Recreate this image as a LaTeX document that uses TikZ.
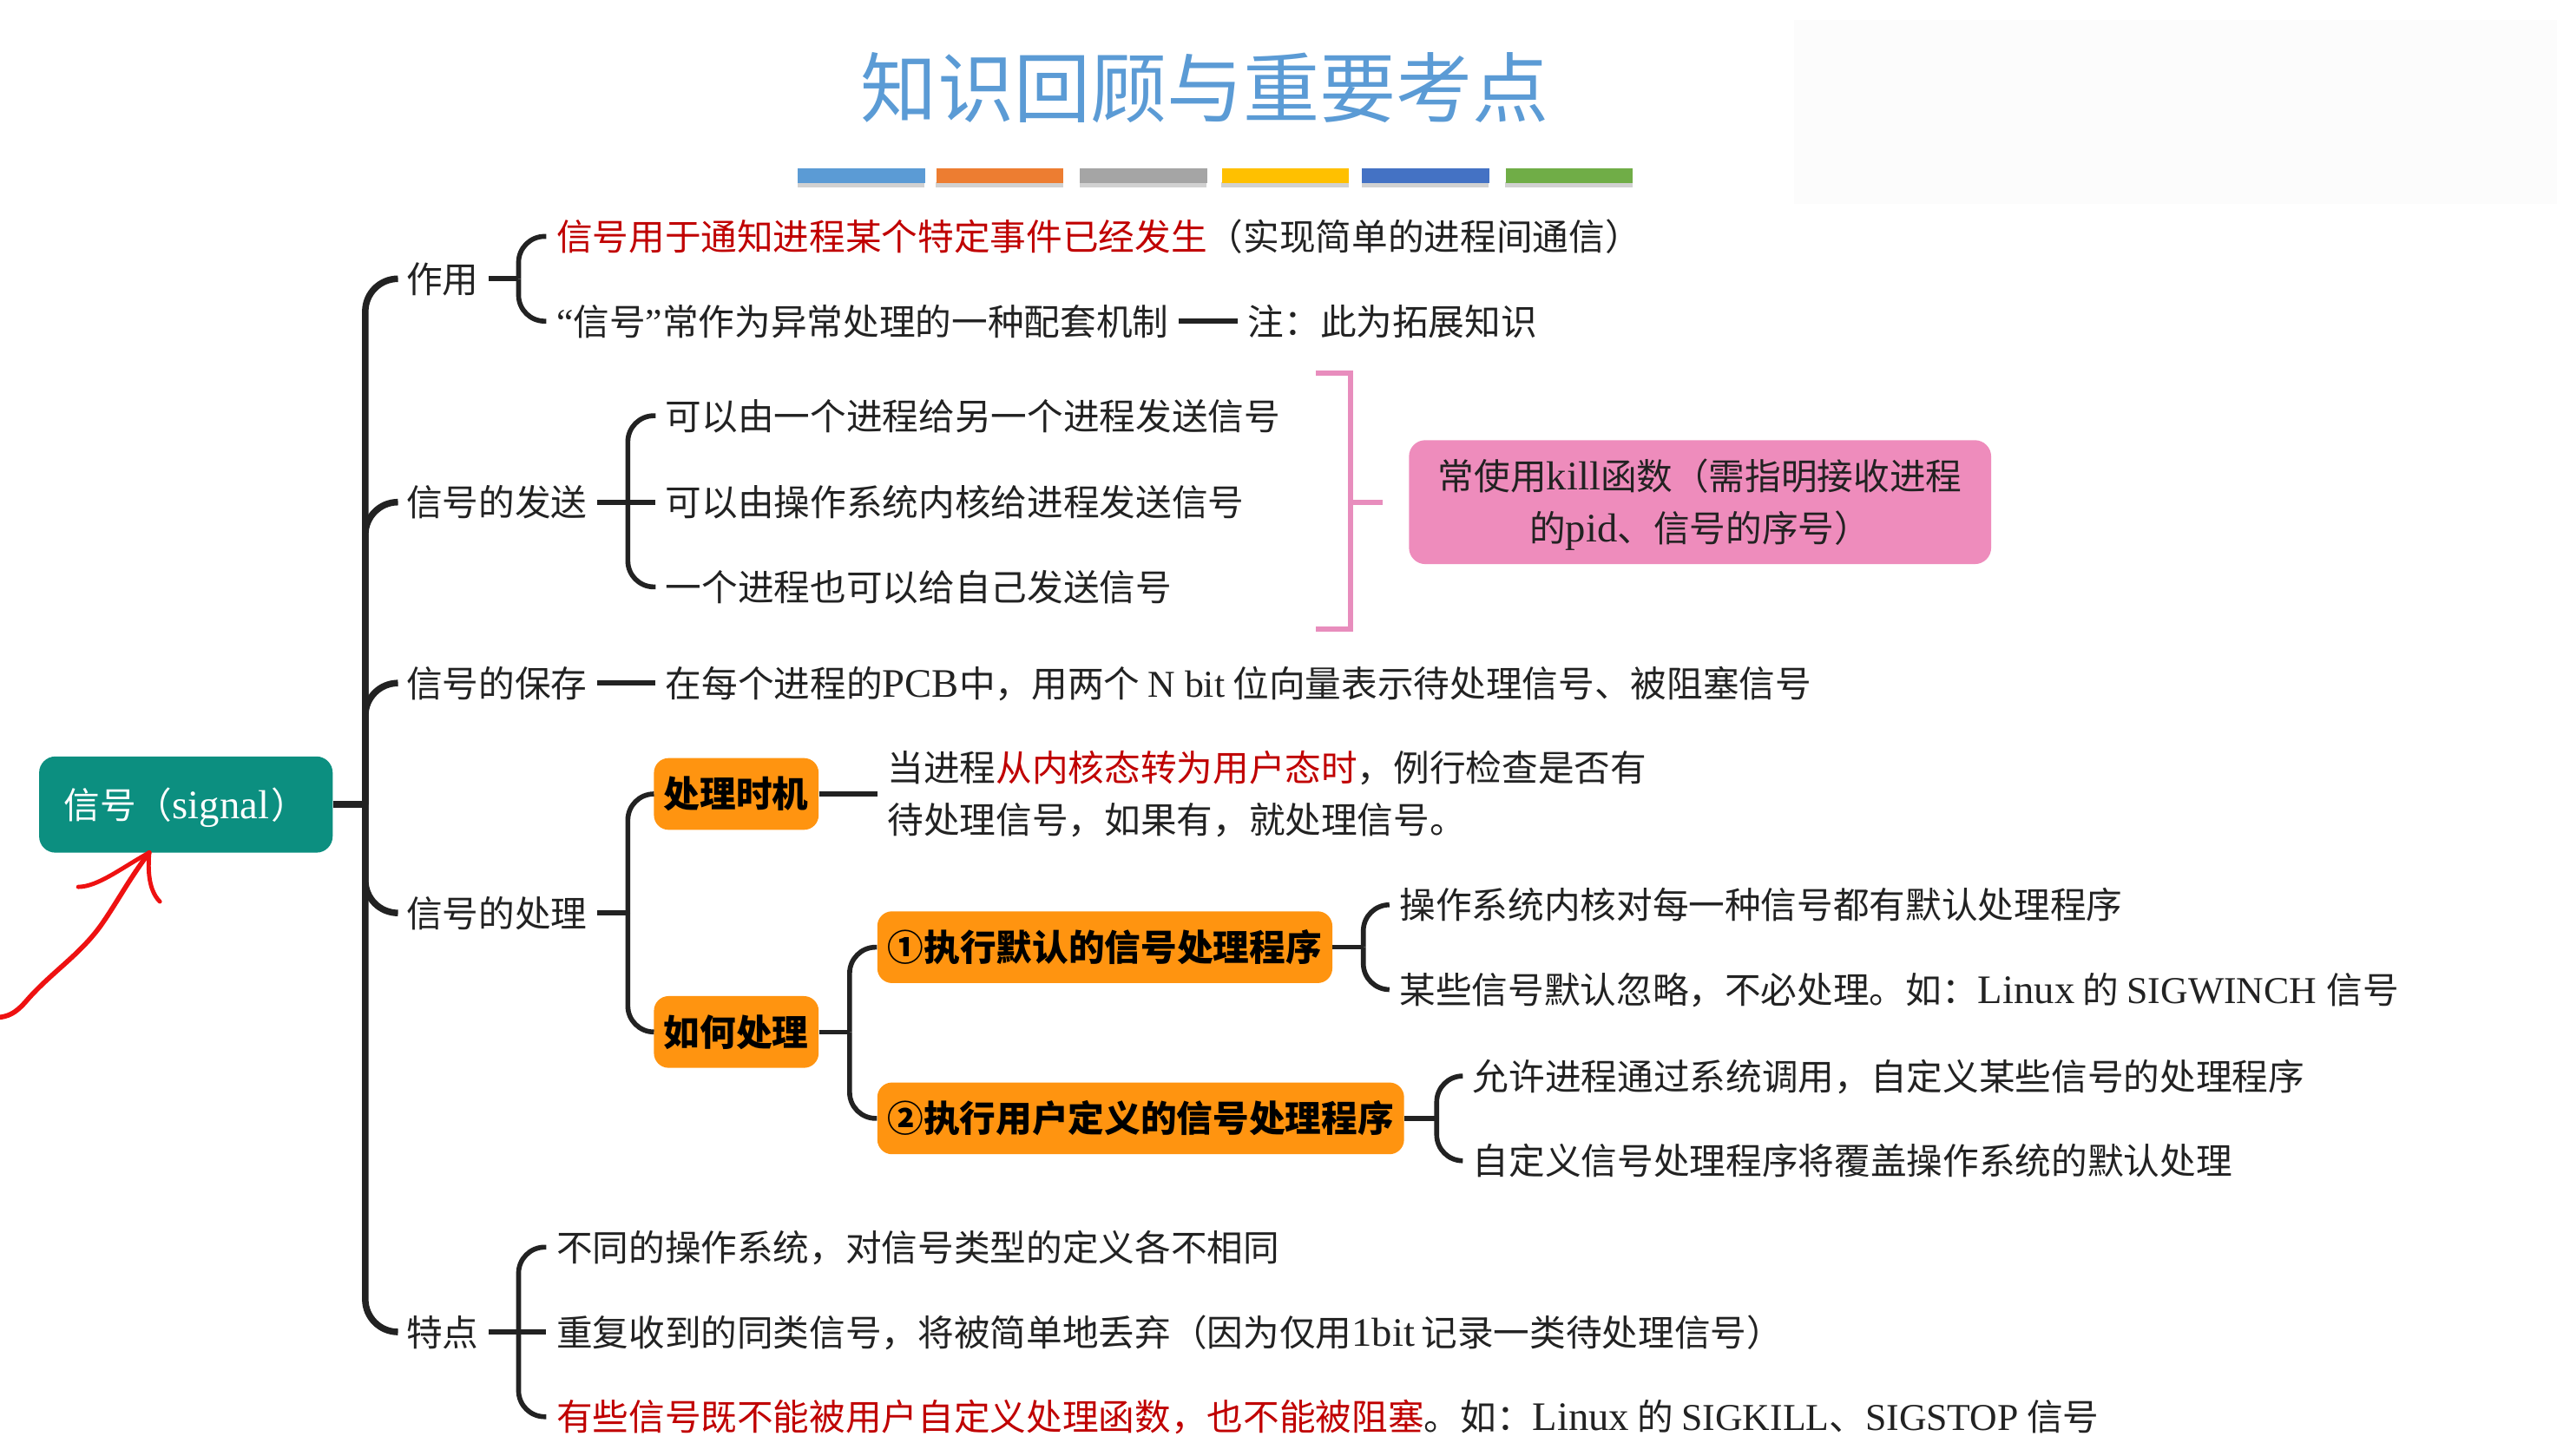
\documentclass[tikz,border=0pt]{standalone}
\usepackage{fontspec}
\setmainfont{Noto Sans CJK SC}
\newfontfamily\latf[Scale=1.12]{Liberation Serif}
\newfontfamily\latn[Scale=1.05]{Liberation Serif}
\newcommand\lat[1]{{\latf #1}}
\newcommand\latc[1]{{\latn #1}}
\definecolor{ink}{HTML}{222222}
\definecolor{redt}{HTML}{C00000}
\definecolor{rootc}{HTML}{0C8F80}
\definecolor{orangec}{HTML}{FF9410}
\definecolor{pinkc}{HTML}{EE8CBC}
\definecolor{pinkl}{HTML}{E88DBD}
\definecolor{arrowred}{HTML}{EE1111}
\definecolor{titleblue}{HTML}{5B9BD5}
\newcommand\rd[1]{\textcolor{redt}{#1}}
\tikzset{
  txt/.style={anchor=west,inner xsep=6pt,inner ysep=0pt,text=ink,text height=17pt,text depth=0pt,font=\fontsize{22.17}{32}\selectfont},
  twol/.style={anchor=west,inner xsep=6pt,inner ysep=0pt,text=ink,align=left,font=\fontsize{22.17}{32}\selectfont},
  obox/.style={fill=orangec,rounded corners=9pt,inner sep=0pt,minimum height=44pt,text=black,font=\fontsize{22.17}{32}\selectfont\bfseries,text height=17pt,text depth=0pt},
  trunk/.style={draw=ink,line width=4pt,rounded corners=20pt},
  twig/.style={draw=ink,line width=3pt,rounded corners=16pt},
  stub/.style={draw=ink,line width=3pt},
  pinkline/.style={draw=pinkl,line width=3pt},
  bar/.style={minimum width=78pt,minimum height=9pt,inner sep=0pt,anchor=north west},
  barshadow/.style={fill=black!18}
}
\begin{document}
\begin{tikzpicture}[x=1pt,y=-1pt]
\useasboundingbox (0,0) rectangle (1568,892.6);
\fill[white] (0,0) rectangle (1568,892.6);
\fill[black!1] (1100,12) rectangle (1568,125);
% title
\node[text=titleblue,font=\fontsize{46.9}{50}\selectfont,inner sep=0pt] (title) at (739,54) {知识回顾与重要考点};
% bars
\foreach \xx/\cc/\nn in {489/5B9BD5/b1,574/ED7D31/b2,662/A5A5A5/b3,749/FFC000/b4,835/4472C4/b5,923/70AD47/b6}{
  \definecolor{barc}{HTML}{\cc}
  \fill[barshadow] (\xx,112) rectangle ++(78,3);
  \node[bar,fill=barc] (\nn) at (\xx,103) {};
}
% root
\node[fill=rootc,rounded corners=10pt,minimum width=180pt,minimum height=59pt,inner sep=0pt] (root) at (114,493.5) {};
\node[anchor=west,inner sep=0pt,text=white,text height=17pt,text depth=0pt,font=\fontsize{22.17}{32}\selectfont] (roott) at (39,493.5) {信号（\lat{signal}\kern1.5pt）};
\coordinate (j0) at (224,493.5);
% level 1
\node[txt] (a) at (243,171) {作用};
\node[txt] (b) at (243,308) {信号的发送};
\node[txt] (c) at (243,419) {信号的保存};
\node[txt] (d) at (243,560) {信号的处理};
\node[txt] (e) at (243,817) {特点};
\draw[stub,line width=4pt] (root.east) -- (j0);
\foreach \n in {a,b,c,d,e}{ \draw[trunk] (j0) |- (\n.west); }
% a
\node[txt] (a1) at (335,145) {\rd{信号用于通知进程某个特定事件已经发生}（实现简单的进程间通信）};
\node[txt] (a2) at (335,197) {\latc{“}信号\latc{”}常作为异常处理的一种配套机制};
\node[txt] (a3) at (759,197) {注：此为拓展知识};
\coordinate (ja) at (318,171);
\draw[stub] (a.east) -- (ja);
\draw[twig] (ja) |- (a1.west);
\draw[twig] (ja) |- (a2.west);
\draw[stub] (a2.east) -- (a3.west);
% b
\node[txt] (b1) at (402,255) {可以由一个进程给另一个进程发送信号};
\node[txt] (b2) at (402,308) {可以由操作系统内核给进程发送信号};
\node[txt] (b3) at (402,360) {一个进程也可以给自己发送信号};
\coordinate (jb) at (385,308);
\draw[stub] (b.east) -- (b2.west);
\draw[twig] (jb) |- (b1.west);
\draw[twig] (jb) |- (b3.west);
\node[fill=pinkc,rounded corners=10pt,minimum width=357pt,minimum height=76pt,inner sep=0pt,text=ink,align=center,font=\fontsize{22.17}{32}\selectfont] (pk) at (1042.5,308) {\rule{0pt}{22pt}常使用\lat{kill}函数（需指明接收进程\\\rule[-5pt]{0pt}{5pt}的\lat{pid}、信号的序号）};
\coordinate (pt) at (807,229);
\coordinate (pb) at (807,386);
\coordinate (pj) at (828,308);
\draw[pinkline] (pt) -| (pj) |- (pb);
\draw[pinkline] (pj) -- (848,308) coordinate (pe);
% c
\node[txt] (c1) at (402,419) {在每个进程的\lat{PCB}中，用两个 \latc{N bit} 位向量表示待处理信号、被阻塞信号};
\draw[stub] (c.east) -- (c1.west);
% d
\node[obox,minimum width=101pt] (d1) at (451.5,487) {处理时机};
\node[obox,minimum width=101pt] (d2) at (451.5,633) {如何处理};
\coordinate (jd) at (385,560);
\draw[stub] (d.east) -- (jd);
\draw[twig] (jd) |- (d1.west);
\draw[twig] (jd) |- (d2.west);
\node[twol] (d1t) at (538,487) {\rule{0pt}{17pt}当进程\rd{从内核态转为用户态时}，例行检查是否有\\\rule{0pt}{17pt}待处理信号，如果有，就处理信号。};
\draw[stub] (d1.east) -- (d1t.west);
\node[obox,minimum width=279pt] (f1) at (677.5,581) {①执行默认的信号处理程序};
\node[obox,minimum width=323pt] (f2) at (699.5,686) {②执行用户定义的信号处理程序};
\coordinate (jf) at (521,633);
\draw[stub] (d2.east) -- (jf);
\draw[twig] (jf) |- (f1.west);
\draw[twig] (jf) |- (f2.west);
\node[txt] (g1) at (852,555) {操作系统内核对每一种信号都有默认处理程序};
\node[txt] (g2) at (852,607) {某些信号默认忽略，不必处理。如：\lat{Linux} 的 \latc{SIGWINCH}\kern6pt 信号};
\coordinate (jg) at (836,581);
\draw[stub] (f1.east) -- (jg);
\draw[twig] (jg) |- (g1.west);
\draw[twig] (jg) |- (g2.west);
\node[txt] (h1) at (897,660) {允许进程通过系统调用，自定义某些信号的处理程序};
\node[txt] (h2) at (897,712) {自定义信号处理程序将覆盖操作系统的默认处理};
\coordinate (jh) at (881,686);
\draw[stub] (f2.east) -- (jh);
\draw[twig] (jh) |- (h1.west);
\draw[twig] (jh) |- (h2.west);
% e
\node[txt] (e1) at (335,765) {不同的操作系统，对信号类型的定义各不相同};
\node[txt] (e2) at (335,817) {重复收到的同类信号，将被简单地丢弃（因为仅用\lat{1bit}\kern4pt 记录一类待处理信号）};
\node[txt] (e3) at (335,869) {\rd{有些信号既不能被用户自定义处理函数，也不能被阻塞}。如：\lat{Linux} 的 \latc{SIGKILL}、\latc{SIGSTOP} 信号};
\coordinate (je) at (318,817);
\draw[stub] (e.east) -- (e2.west);
\draw[twig] (je) |- (e1.west);
\draw[twig] (je) |- (e3.west);
% handwritten arrow
\coordinate (tip) at (91.5,523);
\draw[arrowred,line width=3pt,line cap=round,line join=round]
  (0,624) .. controls (7,623) and (11,620) .. (17,613) .. controls (32,596) and (50,585) .. (63,566) .. controls (72,553) and (80,538) .. (tip);
\draw[arrowred,line width=2.6pt,line cap=round,line join=round]
  (48,544) .. controls (60,544) and (75,532) .. (tip) .. controls (91,530) and (90,545) .. (98,553);
\end{tikzpicture}
\end{document}
